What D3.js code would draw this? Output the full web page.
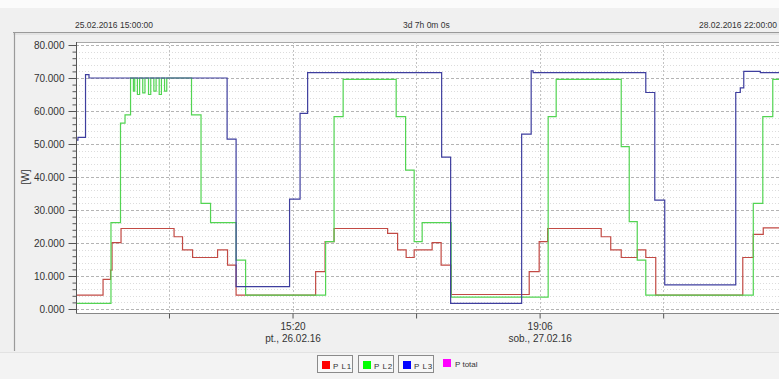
<!DOCTYPE html>
<html>
<head>
<meta charset="utf-8">
<script src="https://cdn.jsdelivr.net/npm/d3@7"></script>
<style>
  html, body { margin: 0; padding: 0; background: #f0f0f0; }
  svg { display: block; font-family: "Liberation Sans", Arial, sans-serif; }
</style>
</head>
<body>
<svg id="chart" width="779" height="379"></svg>
<script>
// ---- data (hours from start, values in W) ----
const startTime = "2016-02-25T15:00";
const endTime = "2016-02-28T22:00";
const spanLabel = "3d 7h 0m 0s";
const startLabel = "25.02.2016 15:00:00";
const endLabel = "28.02.2016 22:00:00";

const pl1Hours  = [0, 3.04, 3.88, 4.05, 5.06, 11.02, 11.97, 13.1, 15.91, 17.03, 17.99, 26.93, 27.99, 29.0, 35.02, 36.14, 37.1, 38.0, 40.02, 41.03, 42.16, 50.93, 52.05, 53.0, 59.02, 60.09, 61.27, 63.07, 64.03, 65.15, 74.93, 76.11, 77.23];
const pl1Values = [4.2, 9, 11.8, 20.1, 24.4, 21.9, 17.9, 15.6, 17.9, 13.3, 4.2, 11.3, 20.4, 24.4, 22.9, 17.9, 15.6, 17.9, 20.1, 13.3, 4.4, 11.3, 20.4, 24.4, 21.9, 17.9, 15.6, 17.9, 15.6, 4.2, 15.6, 22.6, 24.6];

const pl2Hours  = [0, 3.93, 5.0, 5.51, 6.13, 6.45, 6.6, 6.9, 7.15, 7.5, 7.75, 8.15, 8.4, 8.75, 9.0, 9.35, 9.6, 9.95, 10.2, 12.98, 14.05, 15.12, 17.99, 19.06, 28.05, 29.0, 30.02, 35.98, 37.04, 38.0, 38.9, 42.16, 53.06, 53.96, 61.27, 62.17, 63.07, 64.03, 76.11, 77.18, 78.3];
const pl2Values = [1.7, 26.2, 56.3, 58.8, 70, 66, 70, 65, 70, 65.5, 70, 65, 70, 66, 70, 65, 70, 66, 70, 58.8, 32, 26.2, 14.8, 4.2, 20.4, 58.3, 69.6, 58.3, 42.1, 20.4, 26.2, 3.6, 58.3, 69.6, 49.2, 26.5, 14.8, 4.2, 32, 58.3, 69.6];

const pl3Hours  = [0, 0.22, 1.07, 1.46, 16.98, 17.99, 24.0, 25.18, 26.03, 41.09, 42.1, 50.08, 51.15, 51.37, 64.03, 65.04, 66.16, 74.14, 74.65, 75.04, 76.9];
const pl3Values = [51.2, 52, 71, 70, 51.5, 6.8, 33.3, 59.3, 71.6, 46, 1.7, 53, 72.2, 71.6, 65.6, 33, 7.3, 65.6, 67, 72, 71.6];

const yTicks = [0, 10, 20, 30, 40, 50, 60, 70, 80];
const xTickTimes = ["2016-02-26T01:27", "2016-02-26T15:20", "2016-02-27T05:13", "2016-02-27T19:06", "2016-02-28T08:59"];
const xTickLines1 = ["", "15:20", "", "19:06", ""];
const xTickLines2 = ["", "pt., 26.02.16", "", "sob., 27.02.16", ""];

const legendNames  = ["P L1", "P L2", "P L3", "P total"];
const legendColors = ["#ff0000", "#00ff00", "#0000ff", "#ff00ff"];
const lineColors   = ["#c24a44", "#52d452", "#3e3e9e"];

// ---- layout ----
const svg = d3.select("#chart");
const W = 779, H = 379;
const plotL = 76, plotR = 779, plotT = 42, plotB = 313;

const parse = d3.timeParse("%Y-%m-%dT%H:%M");
const t0 = parse(startTime), t1 = parse(endTime);
const x = d3.scaleTime().domain([t0, t1]).range([plotL, plotR]);
const y = d3.scaleLinear().domain([0, 80]).range([309, 45]);
const hourToDate = h => new Date(t0.getTime() + h * 3600000);

// backgrounds
svg.append("rect").attr("width", W).attr("height", H).attr("fill", "#f0f0f0");
svg.append("rect").attr("width", W).attr("height", 8).attr("fill", "#fbfbfb");
svg.append("rect").attr("x", 0).attr("y", 352).attr("width", W).attr("height", 27).attr("fill", "#f3f3f3");
svg.append("line").attr("x1", 0).attr("x2", W).attr("y1", 352.5).attr("y2", 352.5).attr("stroke", "#e2e2e2");

// header
const hdr = svg.append("g").attr("font-size", 8.5).attr("fill", "#333");
hdr.append("text").attr("x", 75).attr("y", 28).text(startLabel);
hdr.append("text").attr("x", 403).attr("y", 28).text(spanLabel);
hdr.append("text").attr("x", 777).attr("y", 28).attr("text-anchor", "end").text(endLabel);
svg.append("line").attr("x1", 13).attr("x2", W).attr("y1", 32.5).attr("y2", 32.5).attr("stroke", "#9a9a9a").attr("stroke-width", 1.2);
svg.append("line").attr("x1", 13).attr("x2", W).attr("y1", 34).attr("y2", 34).attr("stroke", "#d6d6d6");
svg.append("line").attr("x1", 14.5).attr("x2", 14.5).attr("y1", 32).attr("y2", 351).attr("stroke", "#9a9a9a").attr("stroke-width", 1.2);

// plot area
svg.append("rect").attr("x", plotL).attr("y", plotT).attr("width", plotR - plotL).attr("height", plotB - plotT).attr("fill", "#ffffff");
svg.append("line").attr("x1", plotL).attr("x2", plotR).attr("y1", plotT + 0.5).attr("y2", plotT + 0.5).attr("stroke", "#a8a8a8");

// minor horizontal grid
const minorY = d3.range(0, 80.01, 2).filter(v => v % 10 !== 0);
svg.append("g").selectAll("line").data(minorY).join("line")
  .attr("x1", plotL).attr("x2", plotR)
  .attr("y1", d => Math.round(y(d)) + 0.5).attr("y2", d => Math.round(y(d)) + 0.5)
  .attr("stroke", "#dcdcdc").attr("stroke-dasharray", "1,2");
// major horizontal grid
svg.append("g").selectAll("line").data(yTicks).join("line")
  .attr("x1", plotL).attr("x2", plotR)
  .attr("y1", d => Math.round(y(d)) + 0.5).attr("y2", d => Math.round(y(d)) + 0.5)
  .attr("stroke", "#b4b4b4").attr("stroke-dasharray", "3,2");
// vertical grid
const xTicks = xTickTimes.map(parse);
svg.append("g").selectAll("line").data(xTicks).join("line")
  .attr("x1", d => Math.round(x(d)) + 0.5).attr("x2", d => Math.round(x(d)) + 0.5)
  .attr("y1", plotT).attr("y2", plotB)
  .attr("stroke", "#c2c2c2").attr("stroke-dasharray", "2,2");

// series
const series = [
  {h: pl1Hours, v: pl1Values, c: lineColors[0]},
  {h: pl2Hours, v: pl2Values, c: lineColors[1]},
  {h: pl3Hours, v: pl3Values, c: lineColors[2]}
];
svg.append("clipPath").attr("id", "clip").append("rect")
  .attr("x", plotL).attr("y", plotT).attr("width", plotR - plotL).attr("height", plotB - plotT);
const line = d3.line().curve(d3.curveStepAfter).x(d => x(d[0])).y(d => y(d[1]));
const lines = svg.append("g").attr("clip-path", "url(#clip)");
series.forEach(s => {
  const pts = s.h.map((h, i) => [hourToDate(h), s.v[i]]);
  pts.push([t1, s.v[s.v.length - 1]]);
  lines.append("path").datum(pts).attr("d", line)
    .attr("fill", "none").attr("stroke", s.c).attr("stroke-width", 1.2);
});

// y axis
const yAxis = d3.axisLeft(y).tickValues(yTicks).tickFormat(d3.format(".3f")).tickSize(8).tickPadding(4);
const gy = svg.append("g").attr("transform", `translate(${plotL + 0.5},0)`).call(yAxis);
gy.select(".domain").attr("d", `M0,${plotT}V${plotB}`).attr("stroke", "#555");
gy.selectAll(".tick line").attr("stroke", "#555");
gy.selectAll(".tick text").attr("font-size", 10).attr("fill", "#333").attr("font-family", "Liberation Sans, Arial, sans-serif");
const yMinor = d3.axisLeft(y).tickValues(minorY).tickFormat("").tickSize(4);
const gym = svg.append("g").attr("transform", `translate(${plotL + 0.5},0)`).call(yMinor);
gym.select(".domain").remove();
gym.selectAll(".tick line").attr("stroke", "#555");

svg.append("text").attr("transform", "translate(29,177) rotate(-90)")
  .attr("text-anchor", "middle").attr("font-size", 10).attr("fill", "#333").text("[W]");

// x axis
const xAxis = d3.axisBottom(x).tickValues(xTicks).tickFormat("").tickSize(5);
const gx = svg.append("g").attr("transform", `translate(0,${plotB + 0.5})`).call(xAxis);
gx.select(".domain").attr("d", `M${plotL},0H${plotR}`).attr("stroke", "#888");
gx.selectAll(".tick line").attr("stroke", "#555");
gx.selectAll(".tick").each(function(d, i) {
  const g = d3.select(this);
  g.append("text").attr("y", 16).attr("text-anchor", "middle").attr("font-size", 10).attr("fill", "#333").text(xTickLines1[i]);
  g.append("text").attr("y", 28).attr("text-anchor", "middle").attr("font-size", 10).attr("fill", "#333").text(xTickLines2[i]);
});

// legend
const legX = [317, 358, 398, 440];
const leg = svg.append("g");
legendNames.forEach((name, i) => {
  const g = leg.append("g").attr("transform", `translate(${legX[i]},355)`);
  if (i < 3) {
    g.append("rect").attr("x", 0.5).attr("y", 0.5).attr("width", 35).attr("height", 17)
      .attr("fill", "#f7f7f7").attr("stroke", "#8a8a8a");
    g.append("rect").attr("x", 5).attr("y", 6).attr("width", 8).attr("height", 8).attr("fill", legendColors[i]);
    g.append("text").attr("x", 16).attr("y", 13.5).attr("font-size", 8).attr("letter-spacing", 0.6).attr("fill", "#333").text(name);
  } else {
    g.append("rect").attr("x", 3).attr("y", 4).attr("width", 8).attr("height", 8).attr("fill", legendColors[i]);
    g.append("text").attr("x", 15).attr("y", 12).attr("font-size", 8).attr("fill", "#333").text(name);
  }
});
</script>
</body>
</html>
